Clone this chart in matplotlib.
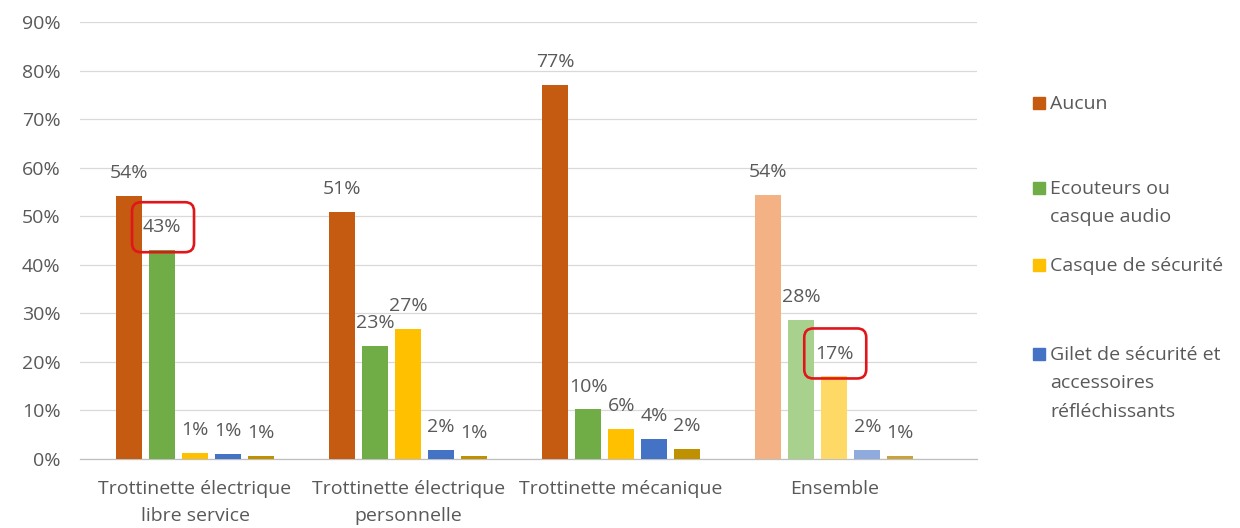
import numpy as np
import matplotlib
matplotlib.use("Agg")
import matplotlib.pyplot as plt
from matplotlib.patches import Rectangle, FancyBboxPatch
from matplotlib.transforms import Affine2D, ScaledTranslation

plt.rcParams['font.family'] = ['Open Sans', 'DejaVu Sans']

# donnees
categories = ["Trottinette électrique\nlibre service",
              "Trottinette électrique\npersonnelle",
              "Trottinette mécanique",
              "Ensemble"]
series = ["Aucun", "Ecouteurs ou\ncasque audio", "Casque de sécurité",
          "Gilet de sécurité et\naccessoires\nréfléchissants", "Autre"]
aucun = [54.1, 50.8, 77.0, 54.3]
ecouteurs = [43.0, 23.2, 10.2, 28.6]
casque = [1.2, 26.7, 6.1, 17.0]
gilet = [1.1, 1.9, 4.2, 1.9]
autre = [0.6, 0.7, 2.1, 0.7]
etiquettes = [["54%", "43%", "1%", "1%", "1%"],
              ["51%", "23%", "27%", "2%", "1%"],
              ["77%", "10%", "6%", "4%", "2%"],
              ["54%", "28%", "17%", "2%", "1%"]]
encadres = [(0, 1), (3, 2)]  # etiquettes entourees en rouge

couleurs = ["#C55A11", "#70AD47", "#FFC000", "#4472C4", "#BF9000"]
couleurs_ensemble = ["#F4B183", "#A9D18E", "#FFD966", "#8FAADC", "#C9A33E"]
gris = "#595959"
taille = 14

valeurs = [aucun, ecouteurs, casque, gilet, autre]

fig = plt.figure(figsize=(12.4, 5.28), dpi=100)
ax = fig.add_axes([80 / 1240, 69 / 528, 897 / 1240, 437 / 528])

x = np.arange(len(categories))
largeur = 0.122
pas = 0.155

for i, vals in enumerate(valeurs):
    cols = [couleurs[i]] * 3 + [couleurs_ensemble[i]]
    pos = x + (i - 2) * pas
    ax.bar(pos, vals, width=largeur, color=cols, zorder=3)
    for g in range(len(categories)):
        ax.annotate(etiquettes[g][i], (pos[g], vals[g]), xytext=(0, 16.5),
                    textcoords="offset points", ha="center", va="center",
                    fontsize=taille, color=gris, zorder=5)
        if (g, i) in encadres:
            # cadre rouge arrondi autour de l'etiquette (taille en pixels)
            tr = Affine2D().translate(1, 23) + ScaledTranslation(pos[g], vals[g], ax.transData)
            ax.add_patch(FancyBboxPatch((-31, -25), 62, 50,
                                        boxstyle="round,pad=0,rounding_size=9",
                                        facecolor="none", edgecolor="#E0161B",
                                        linewidth=1.9, transform=tr,
                                        clip_on=False, zorder=6))

ax.set_xlim(-0.54, 3.67)
ax.set_ylim(0, 90)
ax.set_yticks(np.arange(0, 91, 10))
ax.set_yticklabels([f"{v}%" for v in range(0, 91, 10)])
ax.set_xticks(x)
ax.set_xticklabels(categories, linespacing=1.65)
ax.tick_params(axis="both", length=0, labelsize=taille, labelcolor=gris)
ax.tick_params(axis="y", pad=14)
ax.tick_params(axis="x", pad=15)
ax.yaxis.grid(True, color="#D9D9D9", linewidth=0.9, zorder=0)
for s in ["top", "right", "left"]:
    ax.spines[s].set_visible(False)
ax.spines["bottom"].set_color("#BFBFBF")
ax.spines["bottom"].set_linewidth(0.9)

# legende placee a la main (4 premieres series)
pos_leg = [103, 188, 265, 354]
for i in range(4):
    yf = 1 - pos_leg[i] / 528
    fig.patches.append(Rectangle((1033 / 1240, yf - 6 / 528), 12 / 1240, 12 / 528,
                                 transform=fig.transFigure, color=couleurs[i]))
    fig.text(1050 / 1240, yf + 8 / 528, series[i], ha="left", va="top",
             fontsize=taille, color=gris, linespacing=1.75)

fig.savefig("out.png", dpi=100)
